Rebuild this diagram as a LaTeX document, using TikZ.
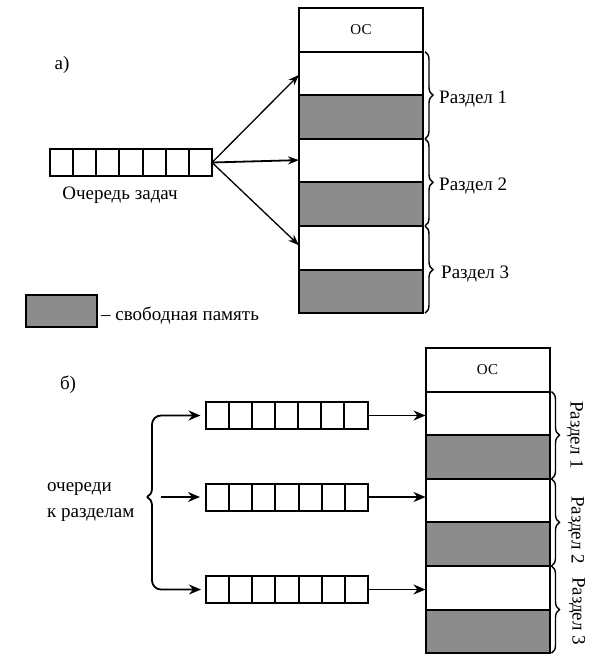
\documentclass[tikz,border=0pt]{standalone}
\usepackage{fontspec}
\setmainfont{Liberation Serif}
\usetikzlibrary{arrows.meta,calc,decorations.pathreplacing}
\begin{document}
\begin{tikzpicture}[x=1pt,y=-1pt,
  seg/.style={draw,line width=2pt,minimum width=124pt,minimum height=43.6pt,inner sep=0pt,outer sep=0pt,font=\fontsize{15}{17}\selectfont},
  free/.style={seg,fill=black!45},
  queue/.style={draw,line width=2pt,minimum width=162pt,minimum height=27pt,inner sep=0pt,outer sep=0pt},
  cell/.style={line width=2pt},
  arr/.style={line width=1.3pt,-{Stealth[length=11pt,width=8pt]}},
  barr/.style={line width=1.8pt,-{Stealth[length=12pt,width=10pt]}},
  br/.style={line width=1.4pt,decorate,decoration={brace,amplitude=8pt}},
  lbl/.style={font=\fontsize{19}{22}\selectfont,inner sep=0pt},
]
\useasboundingbox (0,0) rectangle (591,664);

% ---------- part a ----------
\node[lbl] (la) at (62,65) {а)};
\node[seg] (os1) at (361,29.8) {ОС};
\node[seg,anchor=north] (p1a) at (os1.south) {};
\node[free,anchor=north] (p1b) at (p1a.south) {};
\node[seg,anchor=north] (p2a) at (p1b.south) {};
\node[free,anchor=north] (p2b) at (p2a.south) {};
\node[seg,anchor=north] (p3a) at (p2b.south) {};
\node[free,anchor=north] (p3b) at (p3a.south) {};

\draw[br] ($(p1a.north east)+(2,0)$) -- ($(p1b.south east)+(2,0)$);
\draw[br] ($(p2a.north east)+(2,0)$) -- ($(p2b.south east)+(2,0)$);
\draw[br] ($(p3a.north east)+(2,0)$) -- ($(p3b.south east)+(2,0)$);
\node[lbl,anchor=west] (r1) at ($(p1a.south east)+(16,4)$) {Раздел 1};
\node[lbl,anchor=west] (r2) at ($(p2a.south east)+(16,4)$) {Раздел 2};
\node[lbl,anchor=west] (r3) at ($(p3a.south east)+(18,4)$) {Раздел 3};

\node[queue] (q0) at (131,162.5) {};
\node[lbl] (tq) at (120,195) {Очередь задач};

\coordinate (e1) at ($(p1a.west)+(0,1.5)$);
\coordinate (e2) at ($(p2a.west)+(0,-0.5)$);
\coordinate (e3) at ($(p3a.west)+(0,-2.5)$);
\draw[arr] (q0.east) -- (e1);
\draw[arr,line width=1.8pt] (q0.east) -- (e2);
\draw[arr] (q0.east) -- (e3);

\node[draw,line width=2pt,fill=black!45,minimum width=71pt,minimum height=32pt,inner sep=0pt] (leg) at (61.5,311) {};
\node[lbl,anchor=west] (legt) at ($(leg.east)+(3,5)$) {– свободная память};

% ---------- part b ----------
\node[lbl] (lb) at (68,385) {б)};
\node[seg] (os2) at (487.5,369.8) {ОС};
\node[seg,anchor=north] (s1a) at (os2.south) {};
\node[free,anchor=north] (s1b) at (s1a.south) {};
\node[seg,anchor=north] (s2a) at (s1b.south) {};
\node[free,anchor=north] (s2b) at (s2a.south) {};
\node[seg,anchor=north] (s3a) at (s2b.south) {};
\node[free,anchor=north] (s3b) at (s3a.south) {};

\draw[br] ($(s1a.north east)+(2,0)$) -- ($(s1b.south east)+(2,0)$);
\draw[br] ($(s2a.north east)+(2,0)$) -- ($(s2b.south east)+(2,0)$);
\draw[br] ($(s3a.north east)+(2,0)$) -- ($(s3b.south east)+(2,0)$);
\node[lbl,rotate=-90] (t1) at (575,435) {Раздел 1};
\node[lbl,rotate=-90] (t2) at (576,530) {Раздел 2};
\node[lbl,rotate=-90] (t3) at (577,611) {Раздел 3};

\node[queue] (q1) at (286.5,415.5) {};
\node[queue] (q2) at (287,497) {};
\node[queue] (q3) at (287,589.5) {};

\foreach \q in {q0,q1,q2,q3}{
  \foreach \i in {1,...,6}{
    \draw[cell] ($(\q.north west)!\i/7!(\q.north east)$) -- ($(\q.south west)!\i/7!(\q.south east)$);
  }
}

\draw[barr] (q1.east) -- (q1.east -| s1a.west);
\draw[barr] (q2.east) -- (q2.east -| s2a.west);
\draw[barr] (q3.east) -- (q3.east -| s3a.west);

\coordinate (tip) at (147,497);
\coordinate (ms) at (161,497);
\draw[barr,shorten >=5pt] (tip) .. controls (150,495) and (152,494) .. (152,487) [rounded corners=9pt] -- (152,415.5) -- (q1.west);
\draw[barr,shorten >=5pt] (tip) .. controls (150,499) and (152,500) .. (152,507) [rounded corners=9pt] -- (152,589.5) -- (q3.west);
\draw[barr,shorten >=6pt] (ms) -- (q2.west);

\node[lbl,align=left,anchor=west,font=\fontsize{19}{26}\selectfont] (oq) at (47,502) {очереди\\к разделам};
\end{tikzpicture}
\end{document}
